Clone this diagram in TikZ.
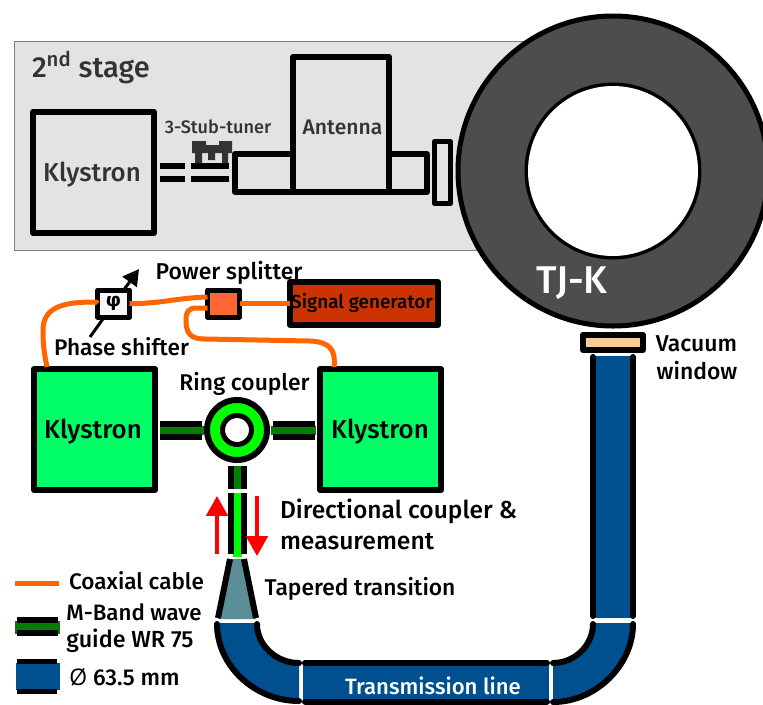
\documentclass[tikz,border=0pt]{standalone}
\usepackage{fontspec}
\setmainfont{Fira Sans Medium}
\newfontfamily\slashfont{Open Sans}
\usetikzlibrary{arrows.meta}
\definecolor{panelg}{HTML}{E3E3E3}
\definecolor{darktext}{HTML}{333333}
\definecolor{ringg}{HTML}{4D4D4D}
\definecolor{kly}{HTML}{00FF66}
\definecolor{coax}{HTML}{FF6600}
\definecolor{splitc}{HTML}{FF6633}
\definecolor{sigc}{HTML}{CC3300}
\definecolor{wgdark}{HTML}{008000}
\definecolor{wgbright}{HTML}{00FF00}
\definecolor{tubeb}{HTML}{00508F}
\definecolor{taperc}{HTML}{5A8F99}
\definecolor{winc}{HTML}{FFCC99}
\newcommand{\fs}[1]{\fontsize{#1}{#1}\selectfont}
\tikzset{
  x=0.75pt,y=-0.75pt,
  boxn/.style={draw=black,line width=4.5pt,line join=round,inner sep=0pt,outer sep=0pt},
  blk/.style={draw=black,line width=4.5pt,line cap=round},
  wg/.style={draw=black,line width=4.5pt},
  cable/.style={draw=coax,line width=3.75pt,line join=round},
  redarrow/.style={draw=red,line width=3pt,-{Triangle[length=15pt,width=16pt]}},
  lbl/.style={font=\fs{17},inner sep=0pt,outer sep=0pt,text=black},
  lblg/.style={font=\fs{19.4},inner sep=0pt,outer sep=0pt,text=darktext},
}
\begin{document}
\begin{tikzpicture}
\useasboundingbox (0,0) rectangle (763,704);
% second stage panel
\node[draw=black!50,line width=0.75pt,fill=panelg,minimum width=516*0.75pt,minimum height=209*0.75pt,inner sep=0pt,anchor=north west] (panel) at (14,41) {};
\node[lblg,font=\fs{21.8},anchor=base west] (stage) at (32,77) {2\textsuperscript{nd} stage};
\node[boxn,minimum width=121*0.75pt,minimum height=121*0.75pt] (k2) at (93.5,172.5) {};
\node[lblg] (k2t) at (92,175) {Klystron};
\draw[black,line width=4.5pt] (160,166) -- (185,166) (160,179) -- (185,179);
\draw[black,line width=4.5pt] (191,166) -- (229,166) (191,179) -- (229,179);
\fill[darktext] (192,141) -- (206,141) -- (206,145) -- (219,145) -- (219,141) -- (232,141) -- (232,153) -- (228,153) -- (228,163) -- (222,163) -- (222,153) -- (215,153) -- (215,160) -- (208,160) -- (208,153) -- (202,153) -- (202,163) -- (195,163) -- (195,153) -- (192,153) -- cycle;
\node[lblg,font=\fs{13.6}] (tuner) at (218,127) {3-Stub-tuner};
\node[boxn,minimum width=192*0.75pt,minimum height=38*0.75pt] (guide) at (331,173) {};
\node[boxn,fill=panelg,minimum width=96*0.75pt,minimum height=135*0.75pt] (ant) at (341,124.5) {};
\node[lblg,font=\fs{15.8}] (antt) at (342.5,127) {Antenna};
\node[boxn,line width=3.75pt,minimum width=16*0.75pt,minimum height=62*0.75pt] (fl) at (442.5,172.5) {};
% TJ-K
\path[fill=ringg,even odd rule,draw=black,line width=3.75pt] (613,171) circle[radius=155*0.75pt] (613,171) circle[radius=86*0.75pt];
\fill[white] (613,171) circle[radius=85*0.75pt];
\node[lbl,text=white,font=\fs{29}] (tj) at (572,283) {TJ-K};
% coordinates for the free ends
\coordinate (arrA) at (90,337); \coordinate (arrB) at (139,269);
% RF source chain
\draw[black,line width=2.25pt] (arrA) -- (115,302);
\draw[black,line width=2.25pt,-{Triangle[length=12pt,width=13pt]}] (115,302) -- (arrB);
\node[boxn,fill=kly,minimum width=121*0.75pt,minimum height=121*0.75pt] (k1) at (94.5,429.5) {};
\node[lbl,font=\fs{19.4}] at (93,432) {Klystron};
\node[boxn,fill=kly,minimum width=121*0.75pt,minimum height=121*0.75pt] (k3) at (380.5,429.5) {};
\node[lbl,font=\fs{19.4}] at (380,432) {Klystron};
\node[boxn,fill=white!97!black,line width=3.75pt,minimum width=32*0.75pt,minimum height=27*0.75pt] (ps) at (113.5,303.5) {};
\node[boxn,fill=splitc,line width=3.75pt,minimum width=32*0.75pt,minimum height=27*0.75pt] (split) at (223.5,303.5) {};
\node[boxn,fill=sigc,minimum width=148*0.75pt,minimum height=43*0.75pt] (sig) at (364,303.5) {};
\node[lbl,font=\fs{14.2}] at (362,303) {Signal generator};
\node[lbl,font=\fs{14}] at (113.5,303.5) {\textbf{φ}};
\draw[cable] (ps.west) -- (96,302) .. controls (70,302) and (43,304) .. (43,330) .. controls (43,345) and (44,352) .. (47,367);
\draw[cable] (ps.east) .. controls (160,304) and (175,298) .. (split.west |- 0,297);
\draw[cable] (split.east) -- (sig.west);
\draw[cable] (split.west |- 0,308) -- (197,308) .. controls (188,308) and (186,312) .. (186,320) .. controls (186,333) and (190,339) .. (205,339) -- (310,341) .. controls (330,342) and (336,350) .. (334,367);
% ring coupler
\draw[fill=wgbright,draw=black,line width=4.5pt] (237,430) circle[radius=30*0.75pt];
\draw[fill=white,draw=black,line width=3.75pt] (237,430) circle[radius=14.5*0.75pt];
% waveguides
\fill[wgdark] (160,426) rectangle (204,435);
\draw[wg] (160,423.5) -- (202,423.5) (160,436.5) -- (202,436.5);
\fill[wgdark] (271,426) rectangle (316,435);
\draw[wg] (273,423.5) -- (315,423.5) (273,436.5) -- (315,436.5);
\fill[wgdark] (232,466) rectangle (242,489);
\draw[wg] (231,466) -- (231,489) (244,466) -- (244,489);
\fill[wgbright] (233,493) rectangle (242,557);
\draw[wg] (231,493) -- (231,554) (244,493) -- (244,554);
\node[inner sep=0pt] (up0) at (217,555) {}; \node[inner sep=0pt] (up1) at (217,495) {};
\node[inner sep=0pt] (dn0) at (257,495) {}; \node[inner sep=0pt] (dn1) at (257,557) {};
\draw[redarrow] (up0) -- (up1);
\draw[redarrow] (dn0) -- (dn1);
% taper
\fill[taperc] (230,559) -- (244,559) -- (256,619) -- (218,619) -- cycle;
\draw[blk,line cap=butt] (230,559) -- (218,618);
\draw[blk,line cap=butt] (244,559) -- (256,618);
% tube
\fill[tubeb] (217,623) .. controls (217,665) and (254,701) .. (299,701) -- (299,663) .. controls (276,663) and (257,645) .. (257,623) -- cycle;
\draw[blk] (217,624) .. controls (217,665) and (254,701) .. (299,701);
\draw[blk] (257,624) .. controls (257,645) and (276,663) .. (299,663);
\fill[tubeb] (303,663) rectangle (549,701);
\draw[blk] (305,663) -- (547,663);
\draw[blk] (305,701.5) -- (547,701.5);
\fill[tubeb] (633,623) .. controls (633,665) and (596,702) .. (553,702) -- (553,663) .. controls (575,663) and (593,645) .. (593,623) -- cycle;
\draw[blk] (633,624) .. controls (633,665) and (596,702) .. (553,702);
\draw[blk] (593,624) .. controls (593,645) and (575,663) .. (553,663);
\fill[tubeb] (593,356) rectangle (633,618);
\draw[blk] (593,357) -- (593,616);
\draw[blk] (633,357) -- (633,616);
\node[boxn,fill=winc,minimum width=60*0.75pt,minimum height=15*0.75pt] (win) at (613,342.5) {};
\node[lbl,text=white,font=\fs{16.6}] at (433,686) {Transmission line};
% labels
\node[lbl,font=\fs{17.2}] at (229,273) {Power splitter};
\node[lbl,font=\fs{17}] at (121.5,347) {Phase shifter};
\node[lbl,font=\fs{17.1}] at (244.5,384) {Ring coupler};
\node[lbl,anchor=base west,font=\fs{18.4}] at (280,518) {Directional coupler \&};
\node[lbl,anchor=base west,font=\fs{18.5}] at (280,549) {measurement};
\node[lbl,font=\fs{17.1}] at (360,589) {Tapered transition};
\node[lbl,font=\fs{17.2}] at (696.5,344) {Vacuum};
\node[lbl,font=\fs{17.2}] at (697,371) {window};
\node[lbl,font=\fs{16.9}] at (136.5,581) {Coaxial cable};
\node[lbl,font=\fs{16.7}] at (134,612) {M-Band wave};
\node[lbl,font=\fs{17.5}] at (130,641) {guide WR 75};
\node[lbl,font=\fs{17.2}] at (124.5,677) {{\slashfont Ø} 63.5 mm};
% legend
\coordinate (lc0) at (15,583); \coordinate (lc1) at (59,583);
\draw[cable] (lc0) -- (lc1);
\fill[wgdark] (15,621) rectangle (60,634);
\draw[wg] (17,620) -- (58,620) (17,633) -- (58,633);
\fill[tubeb] (16,663) rectangle (60,690);
\draw[wg,line width=3.75pt] (17,661) -- (57,661) (17,691) -- (57,691);
\end{tikzpicture}
\end{document}
